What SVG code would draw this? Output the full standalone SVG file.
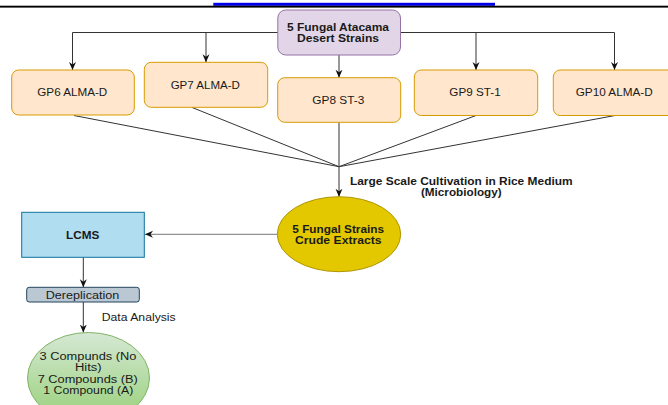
<svg xmlns="http://www.w3.org/2000/svg" width="668" height="405" viewBox="0 0 668 405">
<defs>
<marker id="arr" viewBox="0 0 8 8" refX="8" refY="4" markerWidth="8" markerHeight="8" markerUnits="userSpaceOnUse" orient="auto">
<path d="M0,0.5 L8,4 L0,7.5 L2.5,4 z" fill="#111"/>
</marker>
<linearGradient id="gg" x1="0" y1="0" x2="0" y2="1">
<stop offset="0" stop-color="#d5e8d4"/>
<stop offset="1" stop-color="#97d077"/>
</linearGradient>
<style>
text{font-family:"Liberation Sans",Arial,sans-serif;font-size:10px;fill:#1a1a1a;text-anchor:middle}
.b{font-weight:bold}
.gp{font-size:10.5px}
.gpbox{fill:#ffe6cc;stroke:#d79b00;stroke-width:1}
.c{fill:none;stroke:#333;stroke-width:1}
.ca{fill:none;stroke:#333;stroke-width:1;marker-end:url(#arr)}
</style>
</defs>
<rect x="0" y="0" width="668" height="405" fill="#fff"/>
<rect x="213.3" y="2.8" width="281.7" height="3" fill="#0000ee"/>
<rect x="0" y="5.7" width="668" height="1.9" fill="#000"/>

<g id="connectors">
<path class="ca" d="M278,32.5 H72.5 V70"/>
<path class="ca" d="M278,32.5 H206 V62.3"/>
<path class="ca" d="M400.5,32.5 H614.5 V70"/>
<path class="ca" d="M400.5,32.5 H476 V70"/>
<path class="ca" d="M339,55 V77.7"/>
<path class="c" d="M74,115.5 L339,166.7"/>
<path class="c" d="M191.7,107.3 L339,166.7"/>
<path class="c" d="M476,115.5 L339,166.7"/>
<path class="c" d="M615,115.5 L339,166.7"/>
<path class="ca" d="M339,122.3 V196.7"/>
<path class="ca" d="M277.3,234.3 H145" style="stroke:#777"/>
<path class="ca" d="M83.3,257.3 V287.3"/>
<path class="ca" d="M83.3,302 V332.5"/>
</g>

<g id="source">
<rect x="277.8" y="10" width="122.7" height="45" rx="8" fill="#e1d5e7" stroke="#9673a6"/>
<text class="b" x="338" y="30.5" textLength="102" lengthAdjust="spacingAndGlyphs">5 Fungal Atacama</text>
<text class="b" x="338" y="42" textLength="82" lengthAdjust="spacingAndGlyphs">Desert Strains</text>
</g>
<g id="gp6">
<rect class="gpbox" x="11.7" y="70" width="122.6" height="45" rx="7"/>
<text class="gp" x="72.3" y="96" textLength="70" lengthAdjust="spacingAndGlyphs">GP6 ALMA-D</text>
</g>
<g id="gp7">
<rect class="gpbox" x="144.3" y="62.3" width="123.4" height="45" rx="7"/>
<text class="gp" x="205.3" y="89" textLength="69.3" lengthAdjust="spacingAndGlyphs">GP7 ALMA-D</text>
</g>
<g id="gp8">
<rect class="gpbox" x="277.7" y="77.7" width="123" height="44.6" rx="7"/>
<text class="gp" x="338.3" y="104" textLength="52" lengthAdjust="spacingAndGlyphs">GP8 ST-3</text>
</g>
<g id="gp9">
<rect class="gpbox" x="414.3" y="70" width="123.4" height="45.5" rx="7"/>
<text class="gp" x="475" y="96" textLength="51.3" lengthAdjust="spacingAndGlyphs">GP9 ST-1</text>
</g>
<g id="gp10">
<rect class="gpbox" x="553.3" y="70" width="123.4" height="45.5" rx="7"/>
<text class="gp" x="614.2" y="96" textLength="77" lengthAdjust="spacingAndGlyphs">GP10 ALMA-D</text>
</g>
<g id="label-cultivation">
<text class="b" x="461.3" y="184.5" textLength="222.7" lengthAdjust="spacingAndGlyphs">Large Scale Cultivation in Rice Medium</text>
<text class="b" x="461.3" y="195.5" textLength="80.7" lengthAdjust="spacingAndGlyphs">(Microbiology)</text>
</g>
<g id="extracts">
<ellipse cx="339" cy="234.2" rx="61.7" ry="37.5" fill="#e3c800" stroke="#b09500"/>
<text class="b" x="338.2" y="232.8" textLength="91.7" lengthAdjust="spacingAndGlyphs">5 Fungal Strains</text>
<text class="b" x="338.3" y="243.8" textLength="86.7" lengthAdjust="spacingAndGlyphs">Crude Extracts</text>
</g>
<g id="lcms">
<rect x="21.7" y="212.3" width="122.6" height="45" fill="#b1ddf0" stroke="#10739e"/>
<text class="b" x="82.7" y="239" textLength="33.3" lengthAdjust="spacingAndGlyphs">LCMS</text>
</g>
<g id="dereplication">
<rect x="26.7" y="287.3" width="112.6" height="14.7" rx="2.5" fill="#bac8d3" stroke="#23445d"/>
<text x="82.5" y="298.5" textLength="73.6" lengthAdjust="spacingAndGlyphs">Dereplication</text>
</g>
<g id="label-data">
<text x="101.7" y="321" style="text-anchor:start" textLength="74" lengthAdjust="spacingAndGlyphs">Data Analysis</text>
</g>
<g id="results">
<ellipse cx="88.5" cy="378" rx="61" ry="45.5" fill="url(#gg)" stroke="#82b366"/>
<text x="88" y="360.4" textLength="97" lengthAdjust="spacingAndGlyphs">3 Compunds (No</text>
<text x="88.3" y="371.4" textLength="26.7" lengthAdjust="spacingAndGlyphs">Hits)</text>
<text x="87.7" y="383" textLength="100" lengthAdjust="spacingAndGlyphs">7 Compounds (B)</text>
<text x="88.3" y="393.7" textLength="90" lengthAdjust="spacingAndGlyphs">1 Compound (A)</text>
</g>
</svg>
